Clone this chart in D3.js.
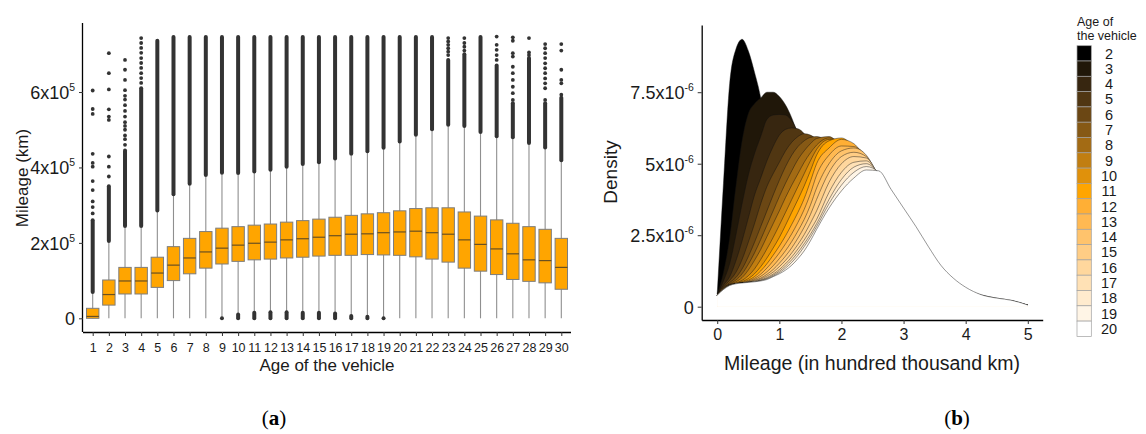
<!DOCTYPE html>
<html>
<head>
<meta charset="utf-8">
<script src="https://cdn.jsdelivr.net/npm/d3@7"></script>
<style>
  body { margin: 0; background: #fff; }
  svg { display: block; font-family: "Liberation Sans", Arial, sans-serif; }
</style>
</head>
<body>
<svg id="chart" width="1146" height="434"></svg>
<script>
// ---- (a) boxplots, mileage in units of 1e5 km
const ages = [1, 2, 3, 4, 5, 6, 7, 8, 9, 10, 11, 12, 13, 14, 15, 16, 17, 18, 19, 20, 21, 22, 23, 24, 25, 26, 27, 28, 29, 30];
const q1 = [0, 0.35, 0.645, 0.645, 0.82, 1.0, 1.18, 1.33, 1.44, 1.51, 1.55, 1.57, 1.60, 1.62, 1.65, 1.67, 1.67, 1.69, 1.68, 1.67, 1.63, 1.57, 1.49, 1.33, 1.25, 1.16, 1.03, 0.98, 0.94, 0.77];
const median = [0.05, 0.63, 0.99, 0.99, 1.20, 1.41, 1.60, 1.76, 1.86, 1.94, 1.99, 2.02, 2.08, 2.11, 2.15, 2.19, 2.23, 2.24, 2.27, 2.29, 2.31, 2.27, 2.23, 2.08, 1.96, 1.84, 1.71, 1.55, 1.53, 1.35];
const q3 = [0.265, 1.016, 1.35, 1.35, 1.62, 1.90, 2.12, 2.30, 2.39, 2.43, 2.47, 2.50, 2.55, 2.59, 2.63, 2.68, 2.73, 2.77, 2.80, 2.85, 2.91, 2.93, 2.93, 2.82, 2.71, 2.61, 2.52, 2.43, 2.36, 2.12];
const whiskerLo = [0, 0, 0, 0, 0, 0, 0, 0, 0.015, 0.13, 0.17, 0.175, 0.175, 0.165, 0.18, 0.155, 0.08, 0.07, 0, 0, 0, 0, 0, 0, 0, 0, 0, 0, 0, 0];
const whiskerHi = [0.66, 2.01, 2.41, 2.41, 2.82, 3.25, 3.53, 3.76, 3.82, 3.81, 3.85, 3.90, 3.98, 4.05, 4.10, 4.20, 4.32, 4.39, 4.48, 4.65, 4.83, 4.97, 5.09, 5.06, 4.90, 4.79, 4.76, 4.61, 4.49, 4.15];
// dense run of outliers above the whisker, up to this value
const denseTop = [2.6, 3.5, 4.45, 6.1, 7.36, 7.46, 7.46, 7.46, 7.46, 7.46, 7.46, 7.46, 7.46, 7.46, 7.46, 7.46, 7.46, 7.46, 7.46, 7.46, 7.46, 7.46, 6.85, 7.0, 7.46, 6.7, 5.7, 6.9, 5.7, 5.85];
// outliers near zero: top of the cluster (null = none)
const lowOutlierTop = [null, null, null, null, null, null, null, null, 0, 0.1, 0.15, 0.16, 0.16, 0.15, 0.15, 0.13, 0.06, 0.04, 0, null, null, null, null, null, null, null, null, null, null, null];
const sparseOutliers = [
  [2.78, 2.95, 3.1, 3.4, 3.64, 4.02, 4.12, 4.36, 5.42, 5.55, 6.04],
  [3.76, 4.02, 4.29, 5.26, 5.35, 5.54, 6.07, 6.5, 7.03],
  [4.6, 4.75, 4.85, 5.0, 5.1, 5.2, 5.35, 5.5, 5.65, 5.8, 5.9, 6.05, 6.32, 6.59, 6.85],
  [6.24, 6.37, 6.5, 6.64, 6.77, 6.9, 7.04, 7.17, 7.3, 7.43],
  [], [], [], [], [], [], [], [], [], [], [], [], [], [], [], [], [], [],
  [6.98, 7.07, 7.16, 7.25, 7.34, 7.43],
  [7.1, 7.2, 7.3, 7.43],
  [],
  [6.85, 6.98, 7.12, 7.25, 7.47],
  [5.79, 5.97, 6.14, 6.32, 6.5, 6.67, 6.94, 7.03, 7.36, 7.45],
  [6.98, 7.05, 7.43],
  [5.79, 6.1, 6.23, 6.36, 6.5, 6.63, 6.76, 6.9, 7.03, 7.16, 7.27],
  [5.93, 6.23, 6.32, 6.59, 7.1, 7.27]
];
const mileageTicks = [0, 2, 4, 6];

// ---- (b) densities, mileage in 1e5 km, density in 1e-6
const mileage = [0, 0.1, 0.2, 0.3, 0.4, 0.5, 0.6, 0.7, 0.8, 0.9, 1.0, 1.1, 1.2, 1.3, 1.4, 1.5, 1.6, 1.8, 2.0, 2.2, 2.4, 2.6, 2.8, 3.0, 3.2, 3.4, 3.6, 3.8, 4.0, 4.25, 4.5, 4.75, 5.0];
const dens2 = [0.45, 4.3, 7.8, 9.0, 9.35, 8.95, 8.2, 7.3, 5.9, 4.6, 3.5, 2.6, 1.9, 1.4, 1.0, 0.75, 0.55, 0.35, 0.25, 0.2, 0.15, 0.12, 0.1, 0.08, 0.06, 0.05, 0.04, 0.03, 0.02, 0.02, 0.01, 0.01, 0.01];
const dens3 = [0.45, 1.2, 2.4, 4.2, 5.8, 6.75, 7.1, 7.3, 7.5, 7.5, 7.35, 7.05, 6.6, 6.0, 5.3, 4.6, 3.9, 2.7, 1.8, 1.2, 0.8, 0.55, 0.4, 0.3, 0.22, 0.17, 0.13, 0.1, 0.08, 0.06, 0.05, 0.04, 0.03];
const dens4 = [0.42, 0.9, 1.5, 2.5, 3.6, 4.6, 5.35, 5.95, 6.55, 6.7, 6.72, 6.7, 6.5, 6.1, 5.6, 5.0, 4.4, 3.3, 2.4, 1.7, 1.2, 0.85, 0.6, 0.45, 0.35, 0.27, 0.2, 0.15, 0.12, 0.09, 0.07, 0.05, 0.03];
const dens5 = [0.41, 0.75, 1.05, 1.6, 2.3, 3.1, 3.9, 4.5, 5.1, 5.6, 6.0, 6.2, 6.25, 6.22, 6.05, 5.7, 5.3, 4.4, 3.4, 2.5, 1.8, 1.3, 0.9, 0.65, 0.5, 0.38, 0.28, 0.21, 0.16, 0.12, 0.09, 0.07, 0.04];
const dens6 = [0.4, 0.7, 0.92, 1.2, 1.65, 2.25, 2.9, 3.6, 4.2, 4.65, 5.05, 5.45, 5.75, 5.95, 6.05, 6.0, 5.85, 5.2, 4.3, 3.3, 2.4, 1.7, 1.2, 0.85, 0.62, 0.47, 0.35, 0.26, 0.2, 0.15, 0.11, 0.08, 0.04];
const dens7 = [0.4, 0.67, 0.84, 1.02, 1.32, 1.75, 2.25, 2.8, 3.35, 3.9, 4.42, 4.9, 5.3, 5.6, 5.8, 5.92, 5.95, 5.7, 5.0, 4.0, 3.0, 2.15, 1.5, 1.05, 0.75, 0.55, 0.42, 0.31, 0.24, 0.18, 0.13, 0.1, 0.04];
const dens8 = [0.4, 0.66, 0.8, 0.93, 1.15, 1.48, 1.88, 2.35, 2.85, 3.35, 3.85, 4.32, 4.75, 5.15, 5.45, 5.7, 5.88, 5.95, 5.5, 4.6, 3.6, 2.6, 1.85, 1.3, 0.92, 0.68, 0.5, 0.37, 0.28, 0.21, 0.15, 0.11, 0.05];
const dens9 = [0.4, 0.65, 0.78, 0.87, 1.02, 1.28, 1.62, 2.0, 2.45, 2.9, 3.35, 3.82, 4.25, 4.65, 5.05, 5.38, 5.65, 5.9, 5.7, 5.05, 4.1, 3.1, 2.25, 1.6, 1.12, 0.8, 0.58, 0.43, 0.32, 0.24, 0.17, 0.12, 0.05];
const dens10 = [0.4, 0.64, 0.77, 0.83, 0.92, 1.08, 1.32, 1.65, 2.02, 2.42, 2.85, 3.3, 3.75, 4.2, 4.65, 5.1, 5.5, 5.85, 5.85, 5.3, 4.45, 3.5, 2.6, 1.85, 1.3, 0.92, 0.66, 0.48, 0.36, 0.26, 0.19, 0.13, 0.05];
const dens11 = [0.4, 0.64, 0.77, 0.82, 0.88, 0.98, 1.15, 1.4, 1.7, 2.05, 2.42, 2.85, 3.3, 3.75, 4.22, 4.75, 5.3, 5.8, 5.9, 5.55, 4.8, 3.85, 2.9, 2.1, 1.5, 1.05, 0.75, 0.54, 0.4, 0.29, 0.21, 0.15, 0.05];
const dens12 = [0.4, 0.64, 0.77, 0.81, 0.86, 0.93, 1.05, 1.25, 1.5, 1.8, 2.12, 2.48, 2.88, 3.3, 3.78, 4.38, 5.0, 5.55, 5.85, 5.7, 5.1, 4.2, 3.2, 2.35, 1.68, 1.18, 0.84, 0.6, 0.44, 0.31, 0.22, 0.16, 0.05];
const dens13 = [0.4, 0.63, 0.76, 0.8, 0.84, 0.9, 0.99, 1.14, 1.35, 1.6, 1.88, 2.2, 2.55, 2.95, 3.4, 3.95, 4.6, 5.3, 5.62, 5.6, 5.25, 4.45, 3.45, 2.55, 1.82, 1.28, 0.9, 0.64, 0.46, 0.33, 0.24, 0.17, 0.05];
const dens14 = [0.4, 0.62, 0.75, 0.8, 0.83, 0.88, 0.95, 1.06, 1.22, 1.43, 1.68, 1.96, 2.28, 2.65, 3.05, 3.55, 4.15, 5.0, 5.45, 5.55, 5.3, 4.5, 3.62, 2.7, 1.93, 1.36, 0.96, 0.68, 0.49, 0.35, 0.25, 0.18, 0.05];
const dens15 = [0.4, 0.62, 0.75, 0.8, 0.83, 0.86, 0.92, 1.0, 1.13, 1.3, 1.52, 1.77, 2.06, 2.4, 2.78, 3.22, 3.75, 4.7, 5.25, 5.4, 5.25, 4.55, 3.75, 2.82, 2.02, 1.43, 1.0, 0.71, 0.51, 0.36, 0.26, 0.19, 0.05];
const dens16 = [0.4, 0.61, 0.75, 0.8, 0.83, 0.86, 0.9, 0.97, 1.07, 1.21, 1.4, 1.62, 1.88, 2.18, 2.52, 2.92, 3.35, 4.35, 5.0, 5.25, 5.2, 4.58, 3.85, 2.92, 2.1, 1.48, 1.04, 0.74, 0.53, 0.38, 0.27, 0.2, 0.05];
const dens17 = [0.4, 0.61, 0.74, 0.8, 0.83, 0.85, 0.88, 0.94, 1.02, 1.14, 1.3, 1.5, 1.74, 2.02, 2.33, 2.68, 3.05, 4.0, 4.7, 5.05, 5.1, 4.62, 3.95, 3.02, 2.18, 1.52, 1.06, 0.75, 0.55, 0.39, 0.28, 0.2, 0.05];
const dens18 = [0.4, 0.6, 0.74, 0.8, 0.83, 0.85, 0.87, 0.92, 0.99, 1.1, 1.24, 1.42, 1.64, 1.9, 2.2, 2.53, 2.9, 3.75, 4.45, 4.88, 5.0, 4.66, 4.0, 3.12, 2.28, 1.6, 1.12, 0.78, 0.57, 0.4, 0.29, 0.21, 0.05];
const dens19 = [0.4, 0.6, 0.74, 0.8, 0.83, 0.85, 0.87, 0.91, 0.97, 1.07, 1.19, 1.35, 1.55, 1.8, 2.1, 2.43, 2.8, 3.6, 4.25, 4.7, 4.9, 4.7, 4.05, 3.25, 2.45, 1.75, 1.2, 0.82, 0.6, 0.41, 0.3, 0.21, 0.05];
const dens20 = [0.4, 0.6, 0.74, 0.8, 0.83, 0.85, 0.87, 0.9, 0.95, 1.05, 1.15, 1.28, 1.45, 1.68, 1.95, 2.3, 2.7, 3.45, 4.05, 4.5, 4.78, 4.75, 4.1, 3.45, 2.8, 2.1, 1.45, 1.0, 0.68, 0.42, 0.3, 0.22, 0.06];
const densityAges = [2, 3, 4, 5, 6, 7, 8, 9, 10, 11, 12, 13, 14, 15, 16, 17, 18, 19, 20];
const densityCurves = [dens2, dens3, dens4, dens5, dens6, dens7, dens8, dens9, dens10, dens11, dens12, dens13, dens14, dens15, dens16, dens17, dens18, dens19, dens20];
const densityTicks = [0, 2.5, 5, 7.5];
const kmTicks = [0, 1, 2, 3, 4, 5];

const svg = d3.select("#chart");

function styleAxis(g) {
  g.select(".domain").attr("stroke", "#000").attr("stroke-width", 1.3);
  g.selectAll(".tick line").attr("stroke", "#333");
  g.selectAll(".tick text").attr("fill", "#1a1a1a");
}

function powerLabel(sel, base, exp) {
  sel.each(function (d) {
    const t = d3.select(this).text("");
    if (d === 0) { t.text("0"); return; }
    t.append("tspan").text(base(d) + "x10");
    t.append("tspan").attr("dy", -8).attr("font-size", "0.58em").text(exp);
  });
}

// ================= panel (a)
const xA = d3.scalePoint().domain(ages).range([83, 571]).padding(0.6);
const yA = d3.scaleLinear().domain([-0.363, 7.83]).range([332, 23]);
const boxW = 12.4;

const gA = svg.append("g");

const boxes = gA.selectAll("g.box")
  .data(ages.map((a, i) => ({
    age: a, q1: q1[i], med: median[i], q3: q3[i],
    lo: whiskerLo[i], hi: whiskerHi[i], top: denseTop[i],
    low: lowOutlierTop[i], sparse: sparseOutliers[i]
  })))
  .enter()
  .append("g")
  .attr("class", "box")
  .attr("transform", d => `translate(${xA(d.age)},0)`);

boxes.append("line")
  .attr("y1", d => yA(d.lo)).attr("y2", d => yA(d.hi))
  .attr("stroke", "#8f8f8f").attr("stroke-width", 1.1);

boxes.append("line")
  .attr("y1", d => yA(d.hi + 0.04)).attr("y2", d => yA(d.top))
  .attr("stroke", "#333").attr("stroke-width", 4).attr("stroke-linecap", "round");

boxes.filter(d => d.low !== null && d.low > 0).append("line")
  .attr("y1", d => yA(0)).attr("y2", d => yA(d.low))
  .attr("stroke", "#333").attr("stroke-width", 4).attr("stroke-linecap", "round");

boxes.filter(d => d.low === 0).append("circle")
  .attr("cy", yA(0)).attr("r", 2).attr("fill", "#333");

boxes.selectAll("circle.out")
  .data(d => d.sparse)
  .enter()
  .append("circle")
  .attr("class", "out")
  .attr("cy", v => yA(v)).attr("r", 1.9).attr("fill", "#333");

boxes.append("rect")
  .attr("x", -boxW / 2).attr("width", boxW)
  .attr("y", d => yA(d.q3)).attr("height", d => yA(d.q1) - yA(d.q3))
  .attr("fill", "#FFA500").attr("stroke", "#7d7d7d").attr("stroke-width", 1);

boxes.append("line")
  .attr("x1", -boxW / 2).attr("x2", boxW / 2)
  .attr("y1", d => yA(d.med)).attr("y2", d => yA(d.med))
  .attr("stroke", "#6a5020").attr("stroke-width", 1.2);

const axAx = gA.append("g")
  .attr("transform", "translate(0,332)")
  .call(d3.axisBottom(xA).tickSize(4).tickSizeOuter(0));
axAx.select(".domain").attr("d", "M83,0.5H571");
axAx.selectAll(".tick text").attr("y", 11).attr("font-size", 12.5);
styleAxis(axAx);

const ayAx = gA.append("g")
  .attr("transform", "translate(83,0)")
  .call(d3.axisLeft(yA).tickValues(mileageTicks).tickSize(4).tickSizeOuter(0));
ayAx.select(".domain").attr("d", "M-0.5,23V332");
ayAx.selectAll(".tick text").attr("font-size", 18).attr("x", -8).attr("dy", "0.36em")
  .call(powerLabel, d => d, "5");
styleAxis(ayAx);

gA.append("text")
  .attr("transform", "translate(28,178) rotate(-90)")
  .attr("text-anchor", "middle").attr("font-size", 17).attr("fill", "#1a1a1a")
  .text("Mileage (km)");

gA.append("text")
  .attr("x", 327).attr("y", 371)
  .attr("text-anchor", "middle").attr("font-size", 17).attr("fill", "#1a1a1a")
  .text("Age of the vehicle");

// ================= panel (b)
const xB = d3.scaleLinear().domain([-0.25, 5.24]).range([701.7, 1042.7]);
const yB = d3.scaleLinear().domain([-0.465, 9.85]).range([320, 25]);
const ageColor = d3.scaleLinear()
  .domain([2, 11, 20])
  .range(["#000000", "#ffa500", "#ffffff"])
  .interpolate(d3.interpolateLab);

const gB = svg.append("g");

const area = d3.area()
  .x((d, i) => xB(mileage[i]))
  .y0(yB(0))
  .y1(d => yB(d))
  .curve(d3.curveMonotoneX);

const line = d3.line()
  .x((d, i) => xB(mileage[i]))
  .y(d => yB(d))
  .curve(d3.curveMonotoneX);

// youngest first, so older ages are drawn on top
densityCurves.forEach((curve, k) => {
  gB.append("path")
    .attr("d", area(curve))
    .attr("fill", ageColor(densityAges[k]));
  gB.append("path")
    .attr("d", line(curve))
    .attr("fill", "none")
    .attr("stroke", "#111")
    .attr("stroke-opacity", 0.8)
    .attr("stroke-width", 0.55);
});

const bxAx = gB.append("g")
  .attr("transform", "translate(0,320)")
  .call(d3.axisBottom(xB).tickValues(kmTicks).tickFormat(d3.format("d")).tickSize(4).tickSizeOuter(0));
bxAx.selectAll(".tick text").attr("y", 9).attr("font-size", 16);
styleAxis(bxAx);

const byAx = gB.append("g")
  .attr("transform", "translate(701.7,0)")
  .call(d3.axisLeft(yB).tickValues(densityTicks).tickSize(4).tickSizeOuter(0));
byAx.selectAll(".tick text").attr("font-size", 18).attr("x", -8).attr("dy", "0.36em")
  .call(powerLabel, d => d, "-6");
styleAxis(byAx);

gB.append("text")
  .attr("transform", "translate(617,172) rotate(-90)")
  .attr("text-anchor", "middle").attr("font-size", 19).attr("fill", "#1a1a1a")
  .text("Density");

gB.append("text")
  .attr("x", 872).attr("y", 370)
  .attr("text-anchor", "middle").attr("font-size", 19.5).attr("fill", "#1a1a1a")
  .text("Mileage (in hundred thousand km)");

// legend
const leg = svg.append("g").attr("transform", "translate(1077,0)");
leg.append("text").attr("x", 0).attr("y", 26).attr("font-size", 12.5).attr("fill", "#1a1a1a").text("Age of");
leg.append("text").attr("x", 0).attr("y", 40).attr("font-size", 12.5).attr("fill", "#1a1a1a").text("the vehicle");

const keyH = 15.3;
const keys = leg.selectAll("g.key")
  .data(densityAges)
  .enter()
  .append("g")
  .attr("class", "key")
  .attr("transform", (d, i) => `translate(0,${45.7 + i * keyH})`);

keys.append("rect")
  .attr("width", 14.3).attr("height", keyH)
  .attr("fill", d => ageColor(d))
  .attr("stroke", "#a0a0a0").attr("stroke-width", 0.7);

keys.append("text")
  .attr("x", 32).attr("y", keyH / 2).attr("dy", "0.36em")
  .attr("text-anchor", "middle").attr("font-size", 14.5).attr("fill", "#1a1a1a")
  .text(d => d);

// panel tags
const tag = (x, letter) => {
  const t = svg.append("text")
    .attr("x", x).attr("y", 425).attr("text-anchor", "middle")
    .attr("font-family", "Liberation Serif, DejaVu Serif, serif").attr("font-size", 21).attr("fill", "#000");
  t.append("tspan").text("(");
  t.append("tspan").attr("font-weight", "bold").text(letter);
  t.append("tspan").text(")");
};
tag(274, "a");
tag(957, "b");
</script>
</body>
</html>
